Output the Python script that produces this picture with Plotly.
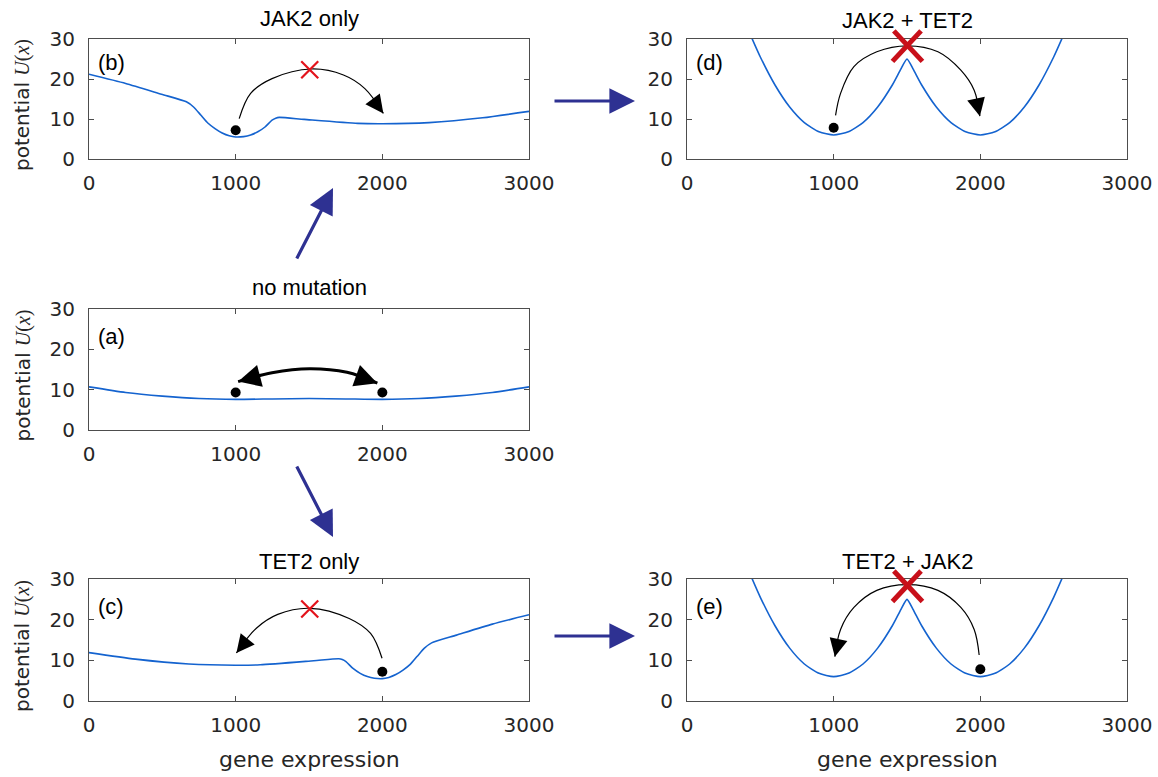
import plotly.graph_objects as go

W, H = 1158, 777

# ---------------- data ----------------
tick_x = [0, 1000, 2000, 3000]
tick_x_text = ["0", "1000", "2000", "3000"]
tick_y = [0, 10, 20, 30]
tick_y_text = ["0", "10", "20", "30"]

# (b) JAK2 only
x_b = [0, 250, 494, 664, 713, 762, 810, 859, 908, 956, 1000, 1054, 1102, 1151,
       1200, 1248, 1273, 1297, 1467, 1832, 2002, 2319, 2684, 3000]
u_b = [21.2, 18.9, 16.2, 14.3, 13.0, 11.0, 9.0, 7.6, 6.5, 5.8, 5.5, 5.6, 6.0, 6.8,
       8.0, 9.7, 10.2, 10.4, 9.9, 8.9, 8.8, 9.1, 10.3, 11.9]
# (c) TET2 only
x_c = [0, 316, 681, 998, 1168, 1533, 1703, 1727, 1752, 1800, 1849, 1898, 1946, 2000,
       2044, 2092, 2141, 2190, 2238, 2287, 2336, 2506, 2750, 3000]
u_c = [11.9, 10.3, 9.1, 8.8, 8.9, 9.9, 10.4, 10.2, 9.7, 8.0, 6.8, 6.0, 5.6, 5.5,
       5.8, 6.5, 7.6, 9.0, 11.0, 13.0, 14.3, 16.2, 18.9, 21.2]
# (a) no mutation
x_a = [0, 250, 500, 750, 1000, 1250, 1500, 1750, 2000, 2250, 2500, 2750, 3000]
u_a = [10.7, 9.3, 8.4, 7.8, 7.6, 7.7, 7.8, 7.7, 7.6, 7.8, 8.4, 9.3, 10.7]
# (d) JAK2 + TET2 and (e) TET2 + JAK2
x_d = [440, 500, 600, 700, 800, 900, 1000, 1100, 1200, 1300, 1400, 1460, 1500,
       1540, 1600, 1700, 1800, 1900, 2000, 2100, 2200, 2300, 2400, 2500, 2560]
u_d = [30.4, 25.5, 18.5, 13.0, 9.1, 6.8, 6.0, 6.8, 9.1, 13.0, 18.5, 22.6, 25.0,
       22.6, 18.5, 13.0, 9.1, 6.8, 6.0, 6.8, 9.1, 13.0, 18.5, 25.5, 30.4]
x_e = x_d
u_e = u_d

# cell positions (balls)
ball_b_x, ball_b_y = [1000], [7.2]
ball_d_x, ball_d_y = [1000], [7.8]
ball_a_x, ball_a_y = [1000, 2000], [9.3, 9.3]
ball_c_x, ball_c_y = [2000], [7.2]
ball_e_x, ball_e_y = [2000], [7.8]

# blocked transitions (red crosses)
cross_b = ([1505], [22.3])
cross_c = ([1505], [22.6])
cross_d = ([1503], [28.4])
cross_e = ([1503], [28.4])

# transition arcs (points along the hand-drawn arrows)
arc_b = ([1024, 1102, 1248, 1516, 1735, 1881, 2007],
         [10.1, 16.4, 20.1, 22.5, 21.0, 17.6, 11.4])
arc_c = ([1998, 1920, 1774, 1506, 1287, 1141, 1005],
         [10.5, 16.6, 20.3, 22.8, 21.3, 17.9, 11.8])
arc_d = ([1013, 1047, 1138, 1294, 1503, 1711, 1867, 1958, 1997],
         [10.9, 16.4, 23.1, 26.8, 28.3, 26.8, 22.2, 17.2, 10.7])
arc_e = ([1992, 1958, 1867, 1711, 1503, 1294, 1138, 1047, 1008],
         [11.3, 17.6, 23.0, 27.2, 28.6, 27.2, 23.0, 17.6, 10.9])
arc_a = ([1017, 1248, 1504, 1759, 1966],
         [12.0, 14.2, 15.2, 14.3, 11.6])

titles = {"b": "JAK2 only", "d": "JAK2 + TET2", "a": "no mutation",
          "c": "TET2 only", "e": "TET2 + JAK2"}

# ---------------- layout geometry (page pixels) ----------------
panels = {
    "b": dict(n="", px=(89, 529), py=(39, 159)),
    "d": dict(n="2", px=(687, 1127), py=(39, 159)),
    "a": dict(n="3", px=(89, 529), py=(309, 430)),
    "c": dict(n="4", px=(89, 529), py=(579, 701)),
    "e": dict(n="5", px=(687, 1127), py=(579, 701)),
}


def fx(px):
    return px / W


def fy(py):
    return 1 - py / H


BLUE = "#1463cf"
NAVY = "#2e3192"
AX = "#4d4d4d"
TXT = "#262626"
TICKFONT = dict(family="DejaVu Sans", size=20, color=TXT)
TITLEFONT = dict(family="Liberation Sans, Arial", size=22, color="black")

fig = go.Figure()
layout = dict(width=W, height=H, margin=dict(l=0, r=0, t=0, b=0),
              paper_bgcolor="white", plot_bgcolor="white", showlegend=False)

for key, p in panels.items():
    n = p["n"]
    layout["xaxis" + n] = dict(
        domain=[fx(p["px"][0]), fx(p["px"][1])], anchor="y" + n, range=[0, 3000],
        tickvals=tick_x, ticktext=tick_x_text, ticks="inside", ticklen=5,
        tickcolor=AX, showline=True, linecolor=AX, linewidth=1, mirror="ticks",
        showgrid=False, zeroline=False, tickfont=TICKFONT, ticklabelstandoff=6,
        automargin=False, fixedrange=True)
    layout["yaxis" + n] = dict(
        domain=[fy(p["py"][1]), fy(p["py"][0])], anchor="x" + n,
        range=[0, 30], tickvals=tick_y, ticktext=tick_y_text, ticks="inside",
        ticklen=5, tickcolor=AX, showline=True, linecolor=AX, linewidth=1,
        mirror="ticks", showgrid=False, zeroline=False, tickfont=TICKFONT,
        ticklabelstandoff=9, automargin=False, fixedrange=True)

fig.update_layout(**layout)

curves = {"b": (x_b, u_b), "d": (x_d, u_d), "a": (x_a, u_a),
          "c": (x_c, u_c), "e": (x_e, u_e)}
balls = {"b": (ball_b_x, ball_b_y), "d": (ball_d_x, ball_d_y),
         "a": (ball_a_x, ball_a_y), "c": (ball_c_x, ball_c_y),
         "e": (ball_e_x, ball_e_y)}
arcs = {"b": arc_b, "d": arc_d, "a": arc_a, "c": arc_c, "e": arc_e}
title_off = {"b": 20, "d": 19, "a": 21, "c": 18, "e": 18}

for key, p in panels.items():
    n = p["n"]
    xa, ya = "x" + n, "y" + n
    cx, cy = curves[key]
    fig.add_trace(go.Scatter(
        x=cx, y=cy, mode="lines", line=dict(color=BLUE, width=1.6,
                                            shape="spline", smoothing=0.6),
        hoverinfo="skip", xaxis=xa, yaxis=ya))
    axp, ayp = arcs[key]
    thick = key == "a"
    fig.add_trace(go.Scatter(
        x=axp, y=ayp, mode="lines",
        line=dict(color="black", width=3 if thick else 1.2, shape="spline",
                  smoothing=1.0),
        hoverinfo="skip", xaxis=xa, yaxis=ya))
    bx, by = balls[key]
    fig.add_trace(go.Scatter(
        x=bx, y=by, mode="markers", marker=dict(color="black", size=10),
        hoverinfo="skip", xaxis=xa, yaxis=ya))

    # panel title
    fig.add_annotation(
        x=fx((p["px"][0] + p["px"][1]) / 2), y=fy(p["py"][0] - title_off[key]),
        xref="paper", yref="paper", text=titles[key], showarrow=False,
        xanchor="center", yanchor="middle", font=TITLEFONT)

    # arrow heads of the arcs
    ends = [(-1, -2)]
    if thick:
        ends.append((0, 1))
    for tip_i, prev_i in ends:
        tx, ty = axp[tip_i], ayp[tip_i]
        qx, qy = axp[prev_i], ayp[prev_i]
        fig.add_annotation(
            x=tx, y=ty, ax=tx + (qx - tx) * 0.3, ay=ty + (qy - ty) * 0.3,
            xref=xa, yref=ya, axref=xa, ayref=ya, text="", showarrow=True,
            arrowhead=2, arrowsize=1.5 if thick else 3.0,
            arrowwidth=3 if thick else 1.2, arrowcolor="black", standoff=0,
            font=dict(size=1))

# thin red crosses for the single mutants
for key, (cxx, cyy) in [("b", cross_b), ("c", cross_c)]:
    n = panels[key]["n"]
    fig.add_trace(go.Scatter(
        x=cxx, y=cyy, mode="markers", cliponaxis=False,
        marker=dict(symbol="x-thin", size=17,
                    line=dict(color="#e3131b", width=2.2)),
        hoverinfo="skip", xaxis="x" + n, yaxis="y" + n))

# heavy red crosses for the double mutants, drawn as two strokes on top of
# the titles (half extent in pixels: 15 horizontally, 16 vertically)
for key, (cxx, cyy) in [("d", cross_d), ("e", cross_e)]:
    p = panels[key]
    n = p["n"]
    hx = 15 * 3000 / (p["px"][1] - p["px"][0])
    hy = 16 * 30 / (p["py"][1] - p["py"][0])
    for sgn in (1, -1):
        fig.add_annotation(
            x=cxx[0] + sgn * hx, y=cyy[0] - hy,
            ax=cxx[0] - sgn * hx, ay=cyy[0] + hy,
            xref="x" + n, yref="y" + n, axref="x" + n, ayref="y" + n,
            text="", showarrow=True, arrowhead=0, arrowwidth=5,
            arrowcolor="#c8101a", standoff=0, startstandoff=0,
            font=dict(size=1))

# panel letters
for key, p in panels.items():
    dy = 23 if key in ("b", "d") else 27
    fig.add_annotation(
        x=fx(p["px"][0] + 7), y=fy(p["py"][0] + dy), xref="paper",
        yref="paper", text="(%s)" % key, showarrow=False, xanchor="left",
        yanchor="middle", font=dict(family="Liberation Sans, Arial", size=22,
                                    color="black"))

# y-axis titles for the left column
for key in ("b", "a", "c"):
    p = panels[key]
    fig.add_annotation(
        x=fx(22), y=fy((p["py"][0] + p["py"][1]) / 2 + 6), xref="paper",
        yref="paper", textangle=-90, showarrow=False, xanchor="center",
        yanchor="middle",
        text="potential <span style='font-family:Liberation Serif'><i>U</i>(<i>x</i>)</span>",
        font=dict(family="DejaVu Sans", size=20, color=TXT))

# x-axis titles for the bottom row
for key in ("c", "e"):
    p = panels[key]
    fig.add_annotation(
        x=fx((p["px"][0] + p["px"][1]) / 2), y=fy(759), xref="paper",
        yref="paper", showarrow=False, text="gene expression",
        xanchor="center", yanchor="middle",
        font=dict(family="DejaVu Sans", size=22, color=TXT))

# navy arrows between panels: (tail_px, tip_px)
flow_arrows = [((296, 260), (333, 188)), ((296, 465), (333, 537)),
               ((553, 101), (635, 101)), ((553, 636), (635, 636))]
for (tx0, ty0), (tx1, ty1) in flow_arrows:
    fig.add_annotation(
        x=fx(tx1), y=fy(ty1), xref="paper", yref="paper",
        ax=tx0 - tx1, ay=ty0 - ty1, axref="pixel", ayref="pixel", text="",
        showarrow=True, arrowhead=2, arrowsize=1.6, arrowwidth=3.2,
        arrowcolor=NAVY, standoff=0, font=dict(size=1))

fig.write_html(
    "out.html",
    config={"displayModeBar": False},
    post_script="document.body.style.margin='0px';"
                "document.body.style.padding='0px';"
                "document.body.style.overflow='hidden';")
